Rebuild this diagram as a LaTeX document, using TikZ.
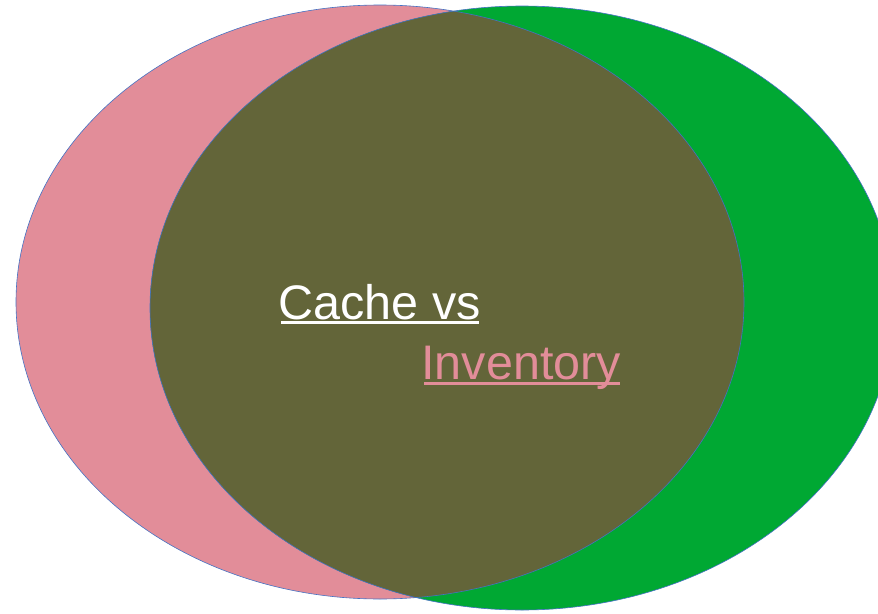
\documentclass[tikz,border=0pt]{standalone}
\usepackage{fontspec}
\setmainfont{Liberation Sans}
\definecolor{pinkc}{HTML}{E28D99}
\definecolor{greenc}{HTML}{00A833}
\definecolor{darkc}{HTML}{636539}
\definecolor{edgec}{HTML}{4472C4}
\begin{document}
\begin{tikzpicture}[x=1pt,y=-1pt,
  lbl/.style={inner sep=0pt,outer sep=0pt,anchor=base west,font=\fontsize{48.5}{52}\selectfont},
  uline/.style={line width=2.4pt}]
\useasboundingbox (0,0) rectangle (878,613);
\clip (0,0) rectangle (878,613);
\fill[pinkc] (380,302) ellipse [x radius=364, y radius=297];
\fill[greenc] (522,308) ellipse [x radius=372, y radius=302];
\begin{scope}
  \clip (380,302) ellipse [x radius=364, y radius=297];
  \fill[darkc] (522,308) ellipse [x radius=372, y radius=302];
\end{scope}
\draw[edgec,line width=0.6pt] (380,302) ellipse [x radius=364, y radius=297];
\draw[edgec,line width=0.6pt] (522,308) ellipse [x radius=372, y radius=302];
\node[lbl,text=white] (cache) at (278.5,319.5) {Cache vs};
\node[lbl,text=pinkc] (inv) at (421.5,379.5) {Inventory};
\coordinate (c1) at (281,322.5);
\coordinate (c2) at (479,322.5);
\coordinate (i1) at (424,383.5);
\coordinate (i2) at (620,383.5);
\draw[uline,white] (c1) -- (c2);
\draw[uline,pinkc] (i1) -- (i2);
\end{tikzpicture}
\end{document}
